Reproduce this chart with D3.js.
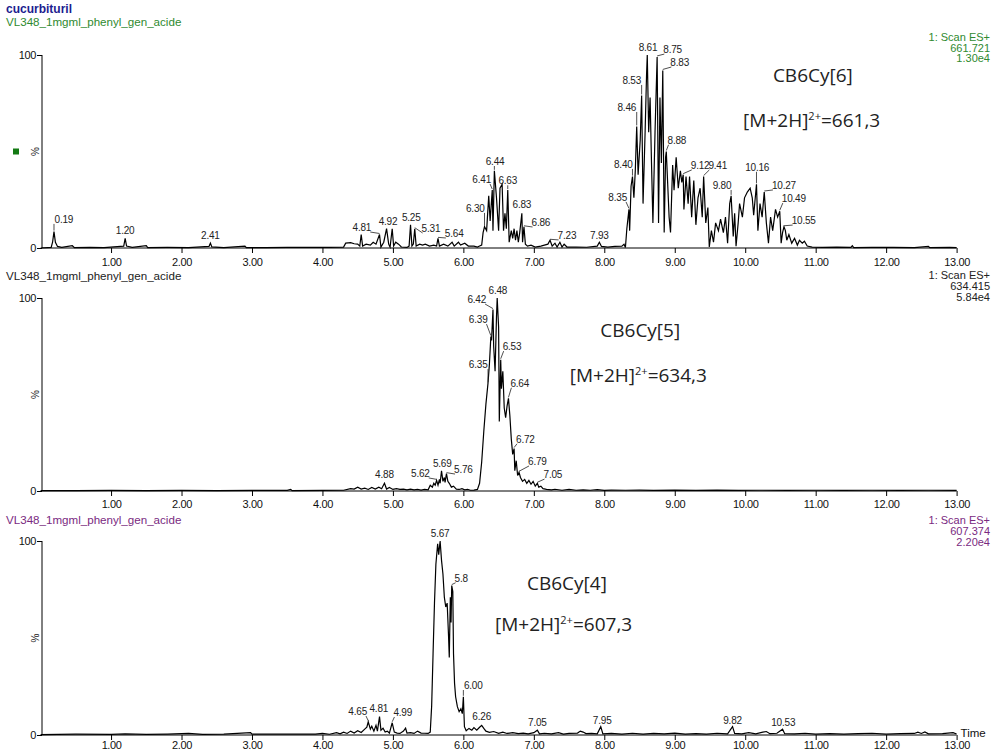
<!DOCTYPE html>
<html><head><meta charset="utf-8">
<script src="https://cdn.jsdelivr.net/npm/d3@7"></script>
<style>
html,body{margin:0;padding:0;background:#fff;}
svg{display:block;}
text{font-family:"Liberation Sans",Arial,sans-serif;}
</style></head><body>
<svg id="c" width="994" height="751"></svg>
<script>
// ---------------- DATA ----------------
const title = "cucurbituril";
const sampleName = "VL348_1mgml_phenyl_gen_acide";
const scanFunction = "1: Scan ES+";
const massTrace = ["661.721", "634.415", "607.374"];
const maxIntensity = ["1.30e4", "5.84e4", "2.20e4"];
const compounds = ["CB6Cy[6]", "CB6Cy[5]", "CB6Cy[4]"];
const ionMass = ["661,3", "634,3", "607,3"];
const xTickValues = [1,2,3,4,5,6,7,8,9,10,11,12,13];
const yTickValues = [0, 100];
const xAxisTitle = "Time";

// chromatogram traces: [time (min), relative intensity %]
const trace1 = [[0,0],[0.15,0.3],[0.17,3],[0.19,8.5],[0.21,3],[0.24,0.8],[0.30,0.3],[0.45,1.2],[0.48,0.2],[0.70,0.3],[0.90,0.2],[1.18,1],[1.20,5],[1.22,1],[1.30,0.3],[1.50,1.2],[1.52,0.2],[1.80,0.3],[2.10,0.2],[2.39,0.8],[2.41,2.5],[2.43,0.6],[2.60,0.2],[2.90,1],[2.92,0.2],[3.20,0.2],[3.50,0.3],[3.80,0.3],[4.10,0.3],[4.30,0.5],[4.33,2.5],[4.40,2.8],[4.45,2.2],[4.50,2],[4.53,1],[4.55,7],[4.57,1],[4.62,2],[4.68,1.5],[4.72,3],[4.76,2],[4.81,7],[4.83,0.5],[4.87,3],[4.91,10],[4.94,2],[4.96,0.5],[4.99,10],[5.01,1],[5.04,3],[5.08,2],[5.12,0.5],[5.20,0.3],[5.23,1],[5.25,12],[5.27,1],[5.29,2],[5.31,10],[5.33,1],[5.38,2],[5.42,1.5],[5.46,2],[5.52,1],[5.58,1.5],[5.62,1],[5.64,5],[5.66,1],[5.72,2],[5.78,1],[5.84,3],[5.87,1],[5.93,3],[5.96,1.5],[6.02,2.5],[6.07,1],[6.15,1],[6.20,0.5],[6.23,1],[6.26,1.5],[6.28,8],[6.30,11],[6.33,9],[6.36,27],[6.38,14],[6.41,30],[6.42,9],[6.44,40],[6.47,26],[6.50,9],[6.52,31],[6.55,33],[6.57,9],[6.59,18],[6.61,10],[6.63,30],[6.65,3],[6.68,9],[6.70,5],[6.72,10],[6.74,4],[6.76,9],[6.78,3],[6.80,8],[6.83,18],[6.84,3],[6.86,11],[6.88,2],[6.91,1],[6.96,1.5],[7.02,0.5],[7.10,1],[7.15,1.5],[7.20,2],[7.23,4],[7.26,1],[7.30,2.5],[7.33,0.5],[7.37,3],[7.40,0.5],[7.43,2],[7.47,0.5],[7.60,0.5],[7.75,0.4],[7.90,1],[7.93,3],[7.96,0.8],[8.05,0.5],[8.15,0.8],[8.25,1],[8.28,2],[8.30,0.3],[8.32,10],[8.35,20],[8.36,9],[8.38,32],[8.40,37],[8.42,26],[8.44,40],[8.46,63],[8.48,38],[8.51,56],[8.53,79],[8.55,23],[8.58,61],[8.60,90],[8.61,100],[8.63,60],[8.65,78],[8.67,44],[8.69,13],[8.72,60],[8.75,99],[8.77,13],[8.79,78],[8.81,44],[8.83,92],[8.85,8],[8.87,47],[8.88,50],[8.90,33],[8.92,16],[8.94,8],[8.97,43],[8.99,30],[9.02,47],[9.05,31],[9.08,40],[9.10,34],[9.12,38],[9.13,20],[9.16,37],[9.19,23],[9.21,37],[9.24,16],[9.27,35],[9.30,12],[9.33,26],[9.36,31],[9.39,16],[9.41,37],[9.44,13],[9.47,21],[9.49,0.5],[9.52,9],[9.55,3],[9.58,13],[9.62,9],[9.65,15],[9.69,8],[9.72,16],[9.75,2.5],[9.78,23],[9.80,27],[9.83,6],[9.85,18],[9.87,0.9],[9.90,13],[9.92,23],[9.96,16],[9.99,26],[10.03,29],[10.07,31],[10.10,26],[10.12,17],[10.16,33],[10.18,9],[10.21,23],[10.24,16],[10.27,29],[10.30,13],[10.33,2.5],[10.36,16],[10.39,9],[10.43,20],[10.46,16],[10.49,19],[10.51,2.5],[10.53,8],[10.55,11],[10.57,9],[10.59,4],[10.62,7],[10.66,2.5],[10.70,5],[10.74,1.5],[10.77,4],[10.81,2.5],[10.84,3.5],[10.88,1],[10.95,0.5],[11.10,0.3],[11.30,0.5],[11.50,0.3],[11.52,1.2],[11.54,0.2],[11.80,0.3],[12.10,0.3],[12.40,0.2],[12.60,0.8],[12.62,0.2],[12.90,0.3],[13.00,0.2]];

const trace2 = [[0,0.2],[0.5,0.2],[1.0,0.3],[1.5,0.2],[2.0,0.3],[2.5,0.2],[3.0,0.3],[3.5,0.3],[3.55,0.8],[3.57,0.2],[4.0,0.3],[4.3,0.4],[4.40,1.2],[4.45,1],[4.50,2],[4.55,1],[4.60,1.5],[4.65,0.8],[4.70,1.8],[4.75,1],[4.80,2],[4.84,1.2],[4.88,4],[4.91,1],[4.95,1.8],[5.00,0.8],[5.05,1.2],[5.10,0.8],[5.15,1],[5.20,0.6],[5.25,1],[5.30,0.6],[5.35,0.8],[5.40,0.5],[5.45,0.8],[5.50,0.6],[5.53,3],[5.56,2],[5.58,4],[5.60,3],[5.62,5.5],[5.64,3],[5.66,6],[5.67,4],[5.69,10.5],[5.71,5],[5.73,7],[5.74,4.5],[5.76,9],[5.78,5],[5.80,4],[5.83,2],[5.86,2.5],[5.90,1],[5.94,0.8],[5.98,1.2],[6.02,0.6],[6.06,0.8],[6.10,0.4],[6.15,0.5],[6.20,0.8],[6.23,4],[6.26,15],[6.29,31],[6.32,45],[6.35,56],[6.37,66],[6.39,80],[6.40,78],[6.42,94],[6.43,75],[6.45,62],[6.47,90],[6.48,100],[6.50,85],[6.51,36],[6.53,68],[6.54,53],[6.56,62],[6.58,43],[6.60,38],[6.62,44],[6.64,48],[6.66,39],[6.68,27],[6.70,19],[6.72,22],[6.73,10.5],[6.75,15.7],[6.77,8],[6.79,9.7],[6.81,7],[6.84,5],[6.87,6],[6.90,4],[6.93,5.5],[6.96,3.5],[6.99,5],[7.02,2.5],[7.05,4],[7.07,2],[7.10,2.5],[7.13,1.2],[7.18,0.8],[7.25,0.6],[7.30,0.9],[7.40,0.4],[7.50,0.8],[7.60,0.4],[7.70,0.6],[7.80,0.4],[7.90,0.7],[8.00,0.3],[8.10,0.5],[8.30,0.4],[8.50,0.5],[8.70,0.3],[9.00,0.5],[9.30,0.3],[9.60,0.5],[9.90,0.3],[10.20,0.4],[10.60,0.3],[11.00,0.4],[11.40,0.3],[11.80,0.4],[12.20,0.3],[12.60,0.4],[13.00,0.3]];

const trace3 = [[0,0.2],[0.5,0.4],[1.0,0.3],[1.2,0.6],[1.5,0.3],[1.8,0.5],[2.1,0.8],[2.3,0.3],[2.6,0.5],[2.98,1.2],[3.0,0.4],[3.3,0.5],[3.6,0.4],[3.9,0.5],[4.0,0.8],[4.1,0.4],[4.2,1.2],[4.25,0.6],[4.3,1.5],[4.35,0.8],[4.40,2],[4.45,1],[4.50,2.2],[4.55,1.3],[4.60,3],[4.63,4],[4.65,6.8],[4.68,3],[4.70,4.5],[4.73,2],[4.76,5],[4.78,2],[4.81,9.5],[4.83,2.5],[4.86,3.5],[4.89,1.5],[4.92,2],[4.95,1],[4.99,6.3],[5.02,1.5],[5.06,1],[5.10,0.8],[5.15,2],[5.18,3.5],[5.20,1],[5.25,1.2],[5.30,0.8],[5.35,2],[5.40,1],[5.45,0.9],[5.50,0.8],[5.53,1.5],[5.55,15],[5.57,42],[5.59,68],[5.61,88],[5.635,98.6],[5.65,93],[5.67,100],[5.69,90],[5.71,83],[5.73,71],[5.75,66],[5.77,68],[5.79,50.6],[5.80,40],[5.815,71],[5.825,58],[5.835,77],[5.85,74],[5.86,42],[5.875,26.6],[5.89,19.7],[5.915,14.6],[5.94,12],[5.965,13.5],[5.985,11],[6.00,19.7],[6.015,4.3],[6.04,2.2],[6.08,3.4],[6.12,2.5],[6.15,3.8],[6.19,2.5],[6.23,4],[6.26,5],[6.29,3.4],[6.32,2],[6.37,1.4],[6.43,1.8],[6.50,0.9],[6.56,1.5],[6.62,0.8],[6.70,1.2],[6.78,0.7],[6.85,1],[6.92,0.6],[7.00,1.2],[7.05,2.5],[7.08,0.6],[7.15,0.9],[7.25,0.6],[7.35,1.2],[7.42,0.5],[7.50,0.8],[7.62,1],[7.66,2],[7.70,1.5],[7.74,0.7],[7.82,0.8],[7.90,0.6],[7.95,4.3],[7.98,0.6],[8.10,0.8],[8.25,0.5],[8.40,0.9],[8.55,0.5],[8.70,0.8],[8.85,0.6],[9.00,1],[9.15,0.5],[9.30,0.7],[9.45,0.5],[9.60,0.9],[9.75,0.6],[9.82,4.3],[9.85,0.8],[9.95,0.6],[10.05,1.2],[10.15,0.6],[10.25,1.5],[10.30,1.8],[10.35,0.7],[10.45,0.9],[10.53,3],[10.56,0.7],[10.70,0.6],[10.85,0.9],[11.00,0.5],[11.20,0.7],[11.40,0.5],[11.60,0.7],[11.80,0.9],[12.00,0.5],[12.20,0.7],[12.40,0.8],[12.45,1.5],[12.50,0.8],[12.55,1.6],[12.60,0.6],[12.80,0.7],[12.95,1.2],[13.00,0.5]];

// peak labels: [label, apex time, apex intensity]
const peaks1 = [["0.19",0.19,8.5],["1.20",1.20,5],["2.41",2.41,2.5],["4.81",4.81,7],["4.92",4.91,10],["5.25",5.25,12],["5.31",5.31,10],["5.64",5.64,5],["6.30",6.30,11],["6.41",6.41,30],["6.44",6.44,40],["6.63",6.63,30],["6.83",6.83,18],["6.86",6.86,11],["7.23",7.23,4],["7.93",7.93,3],["8.35",8.35,20],["8.40",8.40,37],["8.46",8.46,63],["8.53",8.53,79],["8.61",8.61,100],["8.75",8.75,99],["8.83",8.83,92],["8.88",8.88,50],["9.12",9.12,38],["9.41",9.41,37],["9.80",9.80,27],["10.16",10.16,33],["10.27",10.27,29],["10.49",10.49,19],["10.55",10.55,11]];
// label anchor (text baseline centre) in [time, intensity] units
const labelAt1 = [[0.33,13],[1.20,7],[2.41,4.5],[4.56,8.8],[4.93,11.8],[5.26,13.8],[5.54,8.3],[5.87,5.7],[6.17,18.7],[6.26,33.7],[6.45,43],[6.63,33],[6.83,20.5],[7.10,11.4],[7.47,4.7],[7.93,4.6],[8.19,24.4],[8.27,41.5],[8.32,71],[8.39,85],[8.62,102],[8.97,101],[9.07,94.3],[9.03,54],[9.36,41],[9.61,41],[9.67,30.6],[10.17,40],[10.55,30.6],[10.69,23.8],[10.83,12.4]];

const peaks2 = [["4.88",4.88,4],["5.62",5.62,5.5],["5.69",5.69,10.5],["5.76",5.76,9],["6.35",6.35,56],["6.39",6.39,80],["6.42",6.42,94],["6.48",6.48,100],["6.53",6.53,68],["6.64",6.64,48],["6.72",6.72,22],["6.79",6.79,9.7],["7.05",7.05,4]];
const labelAt2 = [[4.88,6.5],[5.39,7.3],[5.70,12.5],[6.00,9.3],[6.21,63.7],[6.21,87],[6.19,97.4],[6.49,102],[6.69,73],[6.80,54],[6.88,25],[7.05,13.5],[7.27,6.7]];

const peaks3 = [["4.65",4.65,6.8],["4.81",4.81,9.5],["4.99",4.99,6.3],["5.67",5.67,100],["5.8",5.835,77],["6.00",6.00,19.7],["6.26",6.26,5],["7.05",7.05,2.5],["7.95",7.95,4.3],["9.82",9.82,4.3],["10.53",10.53,3]];
const labelAt3 = [[4.50,10.3],[4.80,12],[5.14,9.8],[5.67,102],[5.97,79],[6.14,23.7],[6.26,7.5],[7.05,4.6],[7.97,5.8],[9.82,5.8],[10.54,4.5]];

// ---------------- DRAW ----------------
const svg = d3.select("#c");
const x = d3.scaleLinear().domain([0, 13]).range([40.6, 956.6]);

const panels = [
  {trace: trace1, peaks: peaks1, labelAt: labelAt1, y0: 248, y100: 55, hdrL: 26, hdrR: 41, lineGap: 10.5,
   color: "#2f8a2f", tickPad: 5, cb: [10.96, 86], mz: [9.97, 62.7], marker: true},
  {trace: trace2, peaks: peaks2, labelAt: labelAt2, y0: 491, y100: 298, hdrL: 280, hdrR: 279, lineGap: 11,
   color: "#222222", tickPad: 4, cb: [8.51, 79.8], mz: [7.51, 56.5]},
  {trace: trace3, peaks: peaks3, labelAt: labelAt3, y0: 735, y100: 541, hdrL: 524, hdrR: 524, lineGap: 11,
   color: "#7a2a7f", tickPad: 1, cb: [7.47, 74.7], mz: [6.45, 53.6], timeTitle: true}
];

svg.append("text").attr("x", 6).attr("y", 12.5)
  .attr("font-size", 12).attr("font-weight", "bold").attr("fill", "#1d1d8f")
  .text(title);

const minorX = d3.range(1, 131).map(i => i / 10);
const minorY = d3.range(10, 100, 10);
const axisX = 42;

panels.forEach((p, pi) => {
  const y = d3.scaleLinear().domain([0, 100]).range([p.y0, p.y100]);
  const g = svg.append("g");

  // headers
  g.append("text").attr("x", 6).attr("y", p.hdrL).attr("font-size", 11.6)
    .attr("fill", p.color).text(sampleName);
  [scanFunction, massTrace[pi], maxIntensity[pi]].forEach((s, k) => {
    g.append("text").attr("x", 990).attr("y", p.hdrR + k * p.lineGap).attr("font-size", 11)
      .attr("text-anchor", "end").attr("fill", p.color).text(s);
  });

  // x axis (minor + labelled)
  const gx = g.append("g").attr("transform", `translate(0,${p.y0})`);
  gx.call(d3.axisBottom(x).tickValues(minorX).tickSize(3).tickSizeOuter(0).tickFormat(""));
  gx.call(d3.axisBottom(x).tickValues(xTickValues).tickSize(5).tickSizeOuter(0).tickPadding(p.tickPad)
    .tickFormat(d3.format(".2f")));
  gx.selectAll("text").attr("font-size", 11).attr("fill", "#111").attr("letter-spacing", -0.4)
    .style("font-family", '"Liberation Sans",Arial,sans-serif');
  gx.select(".domain").attr("d", `M${axisX},0H${x(13)}`).attr("stroke", "#000");
  gx.selectAll(".tick line").attr("stroke", "#000");

  // y axis
  const gy = g.append("g").attr("transform", `translate(${axisX},0)`);
  gy.call(d3.axisLeft(y).tickValues(minorY).tickSize(3).tickSizeOuter(0).tickFormat(""));
  gy.call(d3.axisLeft(y).tickValues(yTickValues).tickSize(5).tickSizeOuter(0).tickPadding(1)
    .tickFormat(d3.format("d")));
  gy.selectAll("text").attr("font-size", 11).attr("fill", "#111").attr("letter-spacing", -0.4)
    .style("font-family", '"Liberation Sans",Arial,sans-serif');
  gy.select(".domain").attr("d", `M0,${p.y0}V${p.y100}`).attr("stroke", "#000");

  // % sign
  g.append("text").attr("transform", `translate(${axisX - 3},${y(50)}) rotate(-90)`)
    .attr("text-anchor", "middle").attr("font-size", 10).attr("fill", "#222").text("%");

  if (p.marker) {
    g.append("rect").attr("x", 13).attr("y", y(50) - 3).attr("width", 6).attr("height", 6)
      .attr("fill", "#137a13");
  }

  // trace
  const line = d3.line().x(d => x(d[0])).y(d => y(d[1]));
  g.append("path").datum(p.trace).attr("d", line).attr("fill", "none")
    .attr("stroke", "#000").attr("stroke-width", 1.2).attr("stroke-linejoin", "miter");

  // peak labels
  p.peaks.forEach((pk, i) => {
    const [txt, t, v] = pk;
    const [lt, lv] = p.labelAt[i];
    const ax = x(t), ay = y(v), lx = x(lt), ly = y(lv);
    const tx = g.append("text").attr("x", lx).attr("y", ly).attr("text-anchor", "middle")
      .attr("font-size", 10).attr("fill", "#222").attr("letter-spacing", -0.2).text(txt);
    const tw = tx.node().getComputedTextLength();
    let ex;
    if (lx - tw / 2 > ax + 1) ex = lx - tw / 2 + 1;
    else if (lx + tw / 2 < ax - 1) ex = lx + tw / 2 - 1;
    else ex = ax;
    const ey = ly + 1;
    if (Math.hypot(ex - ax, ey - ay) > 4) {
      g.append("path").attr("d", `M${ax},${ay - 1}L${ex},${ey}`)
        .attr("stroke", "#222").attr("stroke-width", 0.8).attr("fill", "none");
    }
  });

  // compound annotations
  g.append("text").attr("x", x(p.cb[0])).attr("y", y(p.cb[1])).attr("text-anchor", "middle")
    .attr("font-size", 19).attr("fill", "#222").style("font-family", '"Open Sans",sans-serif')
    .text(compounds[pi]);
  const mz = g.append("text").attr("x", x(p.mz[0])).attr("y", y(p.mz[1]))
    .attr("font-size", 19).attr("fill", "#222").style("font-family", '"Open Sans",sans-serif');
  mz.append("tspan").text("[M+2H]");
  mz.append("tspan").attr("dy", -7).attr("font-size", 11).text("2+");
  mz.append("tspan").attr("dy", 7).text("=" + ionMass[pi]);

  if (p.timeTitle) {
    g.append("text").attr("x", x(13) + 4).attr("y", p.y0 + 2).attr("font-size", 11.5)
      .attr("fill", "#111").text(xAxisTitle);
  }
});
</script></body></html>
